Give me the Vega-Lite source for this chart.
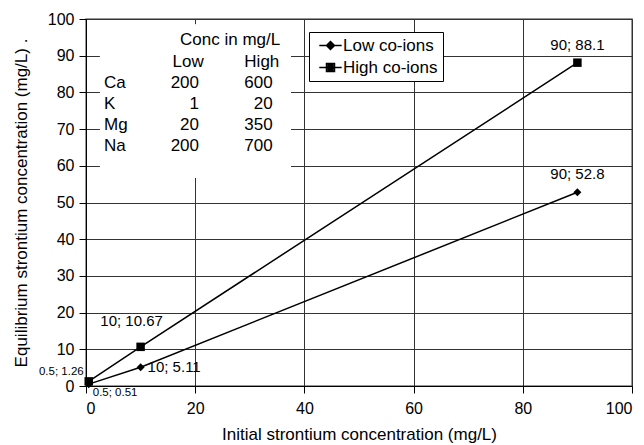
{
  "$schema": "https://vega.github.io/schema/vega-lite/v6.json",
  "width": 546,
  "height": 367,
  "autosize": {"type": "none"},
  "padding": {"left": 86, "top": 19, "right": 12, "bottom": 59},
  "background": "white",
  "config": {
    "font": "Liberation Sans",
    "view": {"stroke": "#777777", "strokeWidth": 1.5},
    "axis": {
      "domainColor": "#000",
      "tickColor": "#000",
      "labelColor": "#000",
      "titleColor": "#000",
      "gridColor": "#333333",
      "gridOpacity": 1,
      "labelFontSize": 16,
      "titleFontSize": 17,
      "titleFontWeight": "normal",
      "tickSize": 7,
      "labelPadding": 5
    },
    "legend": {
      "orient": "none",
      "legendX": 223,
      "legendY": 13,
      "strokeColor": "#000",
      "fillColor": "white",
      "padding": 5,
      "labelFontSize": 17,
      "labelColor": "#000",
      "symbolSize": 64,
      "symbolStrokeWidth": 1.5,
      "symbolStrokeColor": "#000",
      "symbolOpacity": 1,
      "symbolOffset": 8,
      "labelOffset": 4,
      "rowPadding": 4
    }
  },
  "datasets": {
    "series": [
      {"series": "Low co-ions", "conc": 0.5, "eq": 0.51, "label": "0.5; 0.51"},
      {"series": "Low co-ions", "conc": 10, "eq": 5.11, "label": "10; 5.11"},
      {"series": "Low co-ions", "conc": 90, "eq": 52.8, "label": "90; 52.8"},
      {"series": "High co-ions", "conc": 0.5, "eq": 1.26, "label": "0.5; 1.26"},
      {"series": "High co-ions", "conc": 10, "eq": 10.67, "label": "10; 10.67"},
      {"series": "High co-ions", "conc": 90, "eq": 88.1, "label": "90; 88.1"}
    ],
    "table": [
      {"row": "title", "col": "title", "text": "Conc in mg/L"},
      {"row": "header", "col": "lowhdr", "text": "Low"},
      {"row": "header", "col": "highhdr", "text": "High"},
      {"row": "Ca", "col": "name", "text": "Ca"},
      {"row": "Ca", "col": "low", "text": "200"},
      {"row": "Ca", "col": "high", "text": "600"},
      {"row": "K", "col": "name", "text": "K"},
      {"row": "K", "col": "low", "text": "1"},
      {"row": "K", "col": "high", "text": "20"},
      {"row": "Mg", "col": "name", "text": "Mg"},
      {"row": "Mg", "col": "low", "text": "20"},
      {"row": "Mg", "col": "high", "text": "350"},
      {"row": "Na", "col": "name", "text": "Na"},
      {"row": "Na", "col": "low", "text": "200"},
      {"row": "Na", "col": "high", "text": "700"}
    ]
  },
  "resolve": {"scale": {"y": "independent"}},
  "layer": [
    {
      "data": {"name": "series"},
      "encoding": {
        "x": {
          "field": "conc", "type": "quantitative",
          "scale": {"domain": [0, 100], "nice": false},
          "axis": {"values": [0, 20, 40, 60, 80, 100], "title": "Initial strontium concentration (mg/L)", "titlePadding": 10, "labelPadding": 7}
        },
        "y": {
          "field": "eq", "type": "quantitative",
          "scale": {"domain": [0, 100], "nice": false},
          "axis": {"values": [0, 10, 20, 30, 40, 50, 60, 70, 80, 90, 100], "title": "Equilibrium strontium concentration (mg/L)  .", "titlePadding": 17}
        }
      },
      "layer": [
        {
          "mark": {"type": "rect", "fill": "white"},
          "encoding": {
            "x": {"datum": 2.56, "type": "quantitative"},
            "x2": {"datum": 37.5},
            "y": {"datum": 98.4, "type": "quantitative"},
            "y2": {"datum": 56.8}
          }
        },
        {
          "mark": {"type": "line", "color": "#000", "strokeWidth": 1.5},
          "encoding": {"detail": {"field": "series"}}
        },
        {
          "transform": [{"filter": "datum.series == 'Low co-ions'"}],
          "mark": {"type": "point", "filled": true, "color": "#000", "opacity": 1, "size": 64, "shape": "diamond"}
        },
        {
          "transform": [{"filter": "datum.series == 'High co-ions'"}],
          "mark": {"type": "point", "filled": true, "color": "#000", "opacity": 1, "size": 72, "shape": "square"}
        },
        {
          "mark": {"type": "point", "filled": false, "color": "#000", "strokeWidth": 1.5, "opacity": 0, "size": 64},
          "encoding": {
            "shape": {"field": "series", "type": "nominal", "scale": {"domain": ["Low co-ions", "High co-ions"], "range": ["M-2.8,0H2.8M0,-1L1,0L0,1L-1,0ZM0,-0.6L0.6,0L0,0.6L-0.6,0ZM0,-0.25L0.25,0L0,0.25L-0.25,0Z", "M-2.8,0H2.8M-1,-1H1V1H-1ZM-0.6,-0.6H0.6V0.6H-0.6ZM-0.25,-0.25H0.25V0.25H-0.25Z"]},
              "legend": {"title": null, "symbolStrokeColor": "#000", "symbolStrokeWidth": 1.5, "symbolOpacity": 1}}
          }
        },
        {
          "transform": [{"filter": "datum.conc == 90"}],
          "mark": {"type": "text", "fontSize": 15, "align": "center", "baseline": "middle", "dy": -18, "color": "#000"},
          "encoding": {"text": {"field": "label"}}
        },
        {
          "transform": [{"filter": "datum.label == '10; 10.67'"}],
          "mark": {"type": "text", "fontSize": 15, "align": "center", "baseline": "middle", "dx": -9, "dy": -26, "color": "#000"},
          "encoding": {"text": {"field": "label"}}
        },
        {
          "transform": [{"filter": "datum.label == '10; 5.11'"}],
          "mark": {"type": "text", "fontSize": 15, "align": "left", "baseline": "middle", "dx": 7, "dy": 0, "color": "#000"},
          "encoding": {"text": {"field": "label"}}
        },
        {
          "transform": [{"filter": "datum.label == '0.5; 1.26'"}],
          "mark": {"type": "text", "fontSize": 11.5, "align": "right", "baseline": "middle", "dx": -5, "dy": -9.5, "color": "#000"},
          "encoding": {"text": {"field": "label"}}
        },
        {
          "transform": [{"filter": "datum.label == '0.5; 0.51'"}],
          "mark": {"type": "text", "fontSize": 11.5, "align": "left", "baseline": "middle", "dx": 4, "dy": 9, "color": "#000"},
          "encoding": {"text": {"field": "label"}}
        }
      ]
    },
    {
      "data": {"name": "table"},
      "encoding": {
        "y": {"field": "row", "type": "ordinal", "scale": {"type": "point", "domain": ["title", "header", "Ca", "K", "Mg", "Na"], "range": [21.4, 127.4], "padding": 0}, "axis": null},
        "text": {"field": "text"}
      },
      "layer": [
        {
          "transform": [{"filter": "datum.col == 'title'"}],
          "mark": {"type": "text", "fontSize": 17, "align": "center", "baseline": "middle", "color": "#000"},
          "encoding": {"x": {"datum": 26.4, "type": "quantitative"}}
        },
        {
          "transform": [{"filter": "datum.col == 'lowhdr'"}],
          "mark": {"type": "text", "fontSize": 17, "align": "center", "baseline": "middle", "color": "#000"},
          "encoding": {"x": {"datum": 18.7, "type": "quantitative"}}
        },
        {
          "transform": [{"filter": "datum.col == 'highhdr'"}],
          "mark": {"type": "text", "fontSize": 17, "align": "center", "baseline": "middle", "color": "#000"},
          "encoding": {"x": {"datum": 32.2, "type": "quantitative"}}
        },
        {
          "transform": [{"filter": "datum.col == 'name'"}],
          "mark": {"type": "text", "fontSize": 17, "align": "left", "baseline": "middle", "color": "#000"},
          "encoding": {"x": {"datum": 3.3, "type": "quantitative"}}
        },
        {
          "transform": [{"filter": "datum.col == 'low'"}],
          "mark": {"type": "text", "fontSize": 17, "align": "right", "baseline": "middle", "color": "#000"},
          "encoding": {"x": {"datum": 20.7, "type": "quantitative"}}
        },
        {
          "transform": [{"filter": "datum.col == 'high'"}],
          "mark": {"type": "text", "fontSize": 17, "align": "right", "baseline": "middle", "color": "#000"},
          "encoding": {"x": {"datum": 34.2, "type": "quantitative"}}
        }
      ]
    }
  ]
}
